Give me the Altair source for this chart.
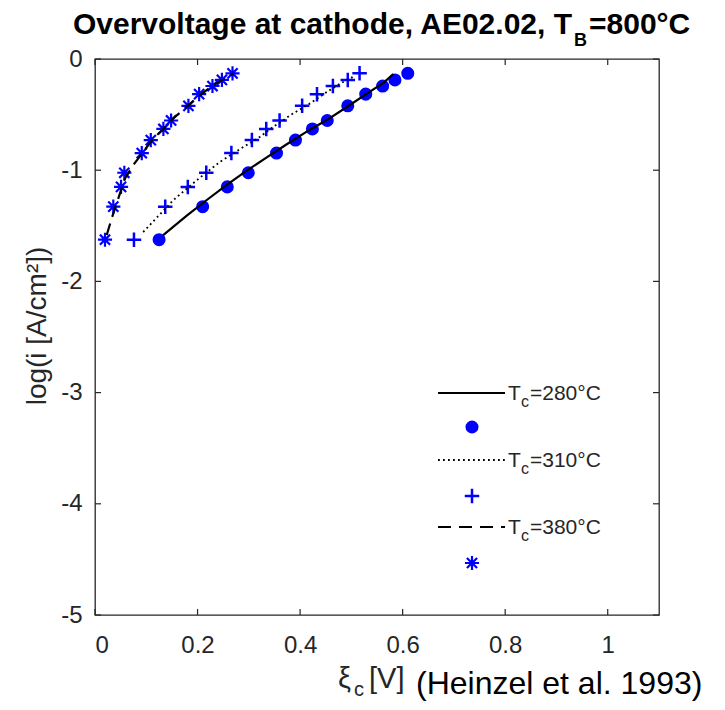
import altair as alt
import pandas as pd

# ---- data ----
circ_x = [0.125, 0.210, 0.258, 0.299, 0.354, 0.391, 0.424, 0.453, 0.493, 0.528, 0.561, 0.585, 0.610]
plus_x = [0.076, 0.137, 0.181, 0.217, 0.266, 0.306, 0.334, 0.360, 0.404, 0.433, 0.464, 0.493, 0.516]
star_x = [0.0195, 0.0357, 0.0508, 0.0572, 0.0912, 0.1088, 0.1334, 0.1484, 0.1822, 0.2031, 0.2291, 0.2475, 0.2682]
meas_y = [-1.625, -1.328, -1.150, -1.023, -0.846, -0.729, -0.629, -0.553, -0.421, -0.316, -0.243, -0.188, -0.129]

solid_x = [0.133, 0.179, 0.218, 0.257, 0.296, 0.335, 0.374, 0.413, 0.452, 0.492, 0.531, 0.563, 0.582]
solid_y = [-1.583, -1.409, -1.268, -1.133, -1.004, -0.884, -0.767, -0.653, -0.549, -0.429, -0.309, -0.213, -0.135]
dot_x = [0.094, 0.153, 0.199, 0.244, 0.290, 0.322, 0.348, 0.387, 0.420, 0.453, 0.479, 0.504]
dot_y = [-1.556, -1.268, -1.088, -0.924, -0.789, -0.699, -0.609, -0.488, -0.398, -0.294, -0.219, -0.159]
dash_x = [0.0229, 0.0326, 0.0455, 0.0586, 0.0748, 0.0943, 0.1139, 0.1334, 0.1529, 0.1791, 0.2051, 0.2311, 0.2506, 0.2701]
dash_y = [-1.583, -1.433, -1.253, -1.073, -0.953, -0.834, -0.713, -0.630, -0.533, -0.429, -0.324, -0.234, -0.183, -0.129]

x_ticks = [0, 0.2, 0.4, 0.6, 0.8, 1]
y_ticks = [0, -1, -2, -3, -4, -5]
legend_temps = ["=280°C", "=310°C", "=380°C"]

W, H = 564, 556
OX, OY = 95, 59  # plot origin on page
BLUE = "#0000ff"
TXT = "#262626"
FONT = "Liberation Sans"

xs = alt.Scale(domain=[0, 1.1], nice=False, zero=False)
ys = alt.Scale(domain=[-5, 0], nice=False, zero=False)

x_axis = alt.Axis(values=x_ticks, domain=False, ticks=False, grid=False, labelFontSize=24,
                  labelFont=FONT, labelColor=TXT, labelPadding=18, title=None,
                  labelExpr="toString(datum.value)")
y_axis = alt.Axis(values=y_ticks, domain=False, ticks=False, grid=False, labelFontSize=24,
                  labelFont=FONT, labelColor=TXT, labelPadding=13, title=None,
                  labelExpr="toString(datum.value)")


def X():
    return alt.X("x:Q", scale=xs, axis=x_axis)


def Y():
    return alt.Y("y:Q", scale=ys, axis=y_axis)


circ_df = pd.DataFrame({"x": circ_x, "y": meas_y})
plus_df = pd.DataFrame({"x": plus_x, "y": meas_y})
star_df = pd.DataFrame({"x": star_x, "y": meas_y})
solid_df = pd.DataFrame({"x": solid_x, "y": solid_y})
dot_df = pd.DataFrame({"x": dot_x, "y": dot_y})
dash_df = pd.DataFrame({"x": dash_x, "y": dash_y})
xt_df = pd.DataFrame({"x": x_ticks})
yt_df = pd.DataFrame({"y": y_ticks})
one = pd.DataFrame({"a": [0]})

PLUS = "M-1,0L1,0M0,-1L0,1"
STAR = "M-1,0L1,0M0,-1L0,1M-0.72,-0.72L0.72,0.72M-0.72,0.72L0.72,-0.72"

layers = []
# points
layers.append(alt.Chart(circ_df).mark_point(shape="circle", filled=True, color=BLUE, size=170, opacity=1)
              .encode(x=X(), y=Y()))
layers.append(alt.Chart(plus_df).mark_point(shape=PLUS, filled=False, color=BLUE, size=210, strokeWidth=2.5, opacity=1)
              .encode(x=X(), y=Y()))
layers.append(alt.Chart(star_df).mark_point(shape=STAR, filled=False, color=BLUE, size=200, strokeWidth=2.2, opacity=1)
              .encode(x=X(), y=Y()))
# model lines
layers.append(alt.Chart(solid_df).mark_line(color="black", strokeWidth=2.2).encode(x=X(), y=Y()))
layers.append(alt.Chart(dot_df).mark_line(color="black", strokeWidth=1.8, strokeDash=[1.8, 3.2]).encode(x=X(), y=Y()))
layers.append(alt.Chart(dash_df).mark_line(color="black", strokeWidth=2.2, strokeDash=[12, 7]).encode(x=X(), y=Y()))

# inward ticks on all four sides
TK = 6
layers.append(alt.Chart(xt_df).mark_rule(color=TXT, strokeWidth=1.2).encode(x=X(), y=alt.value(H), y2=alt.value(H - TK)))
layers.append(alt.Chart(xt_df).mark_rule(color=TXT, strokeWidth=1.2).encode(x=X(), y=alt.value(0), y2=alt.value(TK)))
layers.append(alt.Chart(yt_df).mark_rule(color=TXT, strokeWidth=1.2).encode(y=Y(), x=alt.value(0), x2=alt.value(TK)))
layers.append(alt.Chart(yt_df).mark_rule(color=TXT, strokeWidth=1.2).encode(y=Y(), x=alt.value(W), x2=alt.value(W - TK)))


def txt(s, px, py, size, align="left", weight="normal", color=TXT, angle=0, font=FONT):
    kw = dict(text=s, align=align, baseline="alphabetic", fontSize=size, font=font,
              fontWeight=weight, color=color)
    if angle:
        kw["angle"] = angle
    return alt.Chart(one).mark_text(**kw).encode(x=alt.value(px - OX), y=alt.value(py - OY))


# title
layers.append(txt("Overvoltage at cathode, AE02.02, T", 572, 34, 30, align="right", weight="bold", color="black"))
layers.append(txt("B", 574, 46, 18, weight="bold", color="black"))
layers.append(txt("=800°C", 589, 34, 30, weight="bold", color="black"))

# axis titles
layers.append(txt("log(i [A/cm²])", 46, 326, 28, align="center", angle=270))
layers.append(txt("ξ", 338, 688, 29))
layers.append(txt("c", 354, 696, 20))
layers.append(txt("[V]", 369, 688, 29))
layers.append(txt("(Heinzel et al. 1993)", 416, 694, 32, color="black"))

# legend
row_y = [393, 460, 527]
styles = [dict(strokeWidth=2.2), dict(strokeWidth=1.8, strokeDash=[1.8, 3.2]), dict(strokeWidth=2.2, strokeDash=[13, 8])]
for k in range(3):
    ly = row_y[k]
    layers.append(alt.Chart(one).mark_rule(color="black", **styles[k])
                  .encode(x=alt.value(438 - OX), x2=alt.value(505 - OX), y=alt.value(ly - OY)))
    layers.append(txt("T", 508, ly + 7, 21))
    layers.append(txt("c", 521, ly + 14, 16))
    layers.append(txt(legend_temps[k], 530, ly + 7, 21))

layers.append(alt.Chart(one).mark_point(shape="circle", filled=True, color=BLUE, size=170, opacity=1)
              .encode(x=alt.value(472 - OX), y=alt.value(427 - OY)))
layers.append(alt.Chart(one).mark_point(shape=PLUS, filled=False, color=BLUE, size=210, strokeWidth=2.5, opacity=1)
              .encode(x=alt.value(472 - OX), y=alt.value(496 - OY)))
layers.append(alt.Chart(one).mark_point(shape=STAR, filled=False, color=BLUE, size=200, strokeWidth=2.2, opacity=1)
              .encode(x=alt.value(472 - OX), y=alt.value(563 - OY)))

chart = alt.layer(*layers).properties(
    width=W, height=H,
    autosize=alt.AutoSizeParams(type="none"),
    padding={"left": OX - 8, "top": OY - 8, "right": 55, "bottom": 86},
    background="white",
).configure_view(stroke=TXT, strokeWidth=1.3)

chart.save("out.html", embed_options={"renderer": "svg", "actions": False})
